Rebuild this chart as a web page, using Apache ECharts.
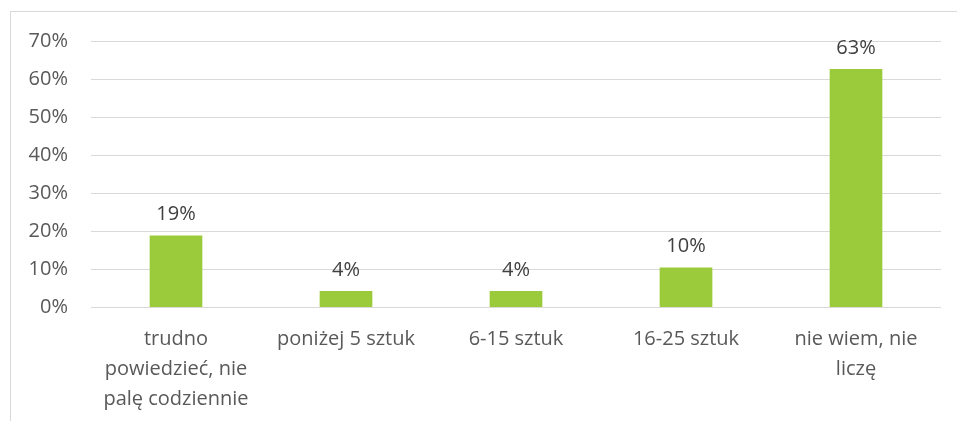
<!DOCTYPE html>
<html>
<head>
<meta charset="utf-8">
<script src="https://cdn.jsdelivr.net/npm/echarts@6/dist/echarts.min.js"></script>
<style>
html, body { margin: 0; padding: 0; background: #fff; }
.frame {
  position: absolute; left: 10px; top: 11px; width: 960px; height: 420px;
  border-top: 1px solid #D9D9D9; border-left: 1px solid #D9D9D9;
}
.chart { position: absolute; left: 0; top: 0; width: 957px; height: 421px; }
</style>
</head>
<body>
<div class="frame"></div>
<div class="chart"></div>
<script>
// dane
const categories = [
  'trudno\npowiedzieć, nie\npalę codziennie',
  'poniżej 5 sztuk',
  '6-15 sztuk',
  '16-25 sztuk',
  'nie wiem, nie\nliczę'
]
const values = [18.8, 4.2, 4.2, 10.4, 62.6]
const yTicks = [0, 10, 20, 30, 40, 50, 60, 70]

const myChart = echarts.init(document.querySelector('.chart'))
myChart.setOption({
  animation: false,
  textStyle: { fontFamily: 'Open Sans', color: '#595959' },
  grid: { left: 91, right: 16, top: 41, bottom: 114 },
  xAxis: {
    type: 'category',
    data: categories,
    axisLine: { show: false },
    axisTick: { show: false },
    axisLabel: {
      interval: 0,
      margin: 17,
      fontSize: 20,
      lineHeight: 30,
      color: '#595959',
      fontFamily: 'Open Sans'
    }
  },
  yAxis: {
    type: 'value',
    min: yTicks[0],
    max: yTicks[yTicks.length - 1],
    interval: 10,
    axisLine: { show: false },
    axisTick: { show: false },
    axisLabel: {
      margin: 23,
      fontSize: 20,
      color: '#595959',
      fontFamily: 'Open Sans',
      formatter: v => v + '%'
    },
    splitLine: { lineStyle: { color: '#D9D9D9', width: 1 } }
  },
  series: [
    {
      type: 'bar',
      data: values,
      barWidth: '31%',
      itemStyle: { color: '#9BCB3B' },
      label: {
        show: true,
        position: 'top',
        distance: 11,
        fontSize: 20,
        color: '#404040',
        fontFamily: 'Open Sans',
        formatter: p => Math.round(p.value) + '%'
      }
    }
  ]
})
</script>
</body>
</html>
